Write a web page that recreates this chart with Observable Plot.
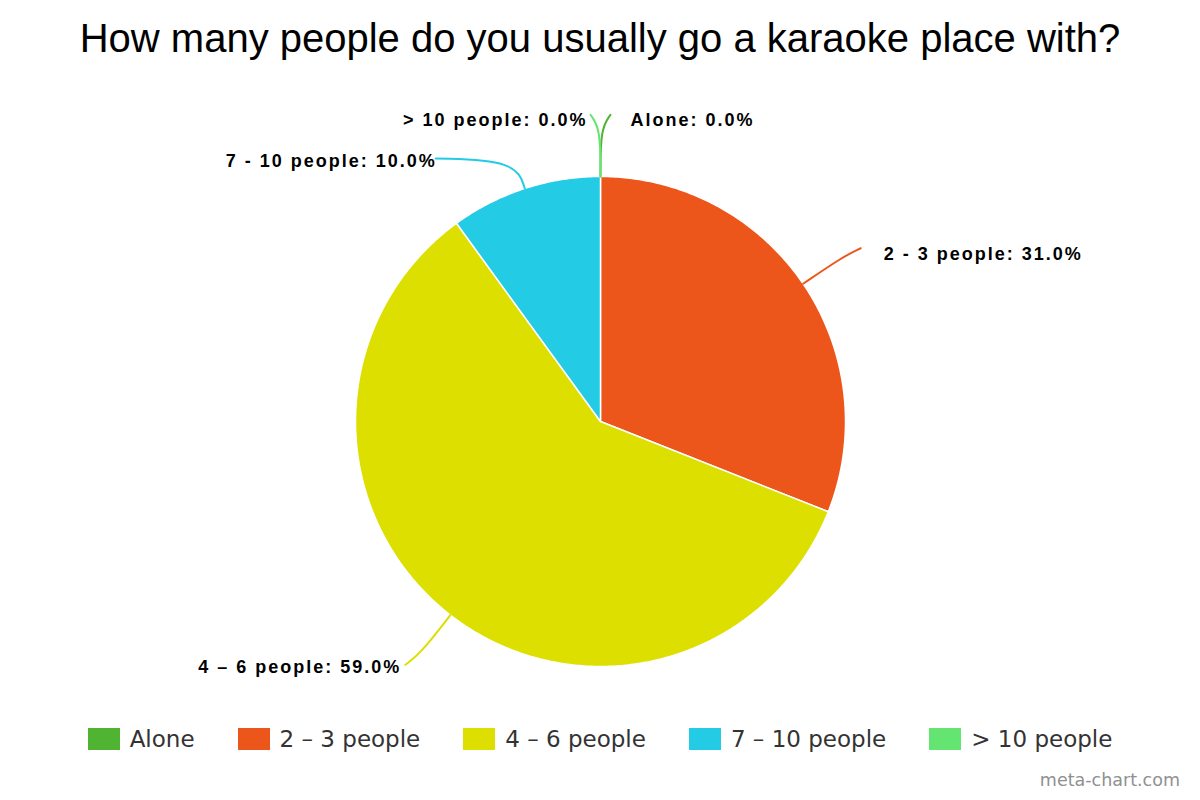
<!DOCTYPE html>
<html>
<head>
<meta charset="utf-8">
<script src="https://cdn.jsdelivr.net/npm/d3@7"></script>
<script src="https://cdn.jsdelivr.net/npm/@observablehq/plot@0.6"></script>
<style>
  html, body { margin: 0; padding: 0; background: #fff; }
  #page { position: relative; width: 1200px; height: 800px; overflow: hidden; }
  #title { position: absolute; left: 0; top: 14px; width: 1200px; text-align: center;
           font-family: "Liberation Sans", Arial, sans-serif; font-size: 40px; color: #000; line-height: 48px; }
  #chart { position: absolute; left: 0; top: 80px; }
  #legend { position: absolute; left: 0; top: 722px; width: 1200px; display: flex; justify-content: center;
            gap: 43px; font-family: "DejaVu Sans", sans-serif; font-size: 23px; color: #333; }
  #legend .item { display: flex; align-items: center; gap: 10px; line-height: 34px; }
  #legend .sw { width: 32px; height: 22px; display: inline-block; }
  #credit { position: absolute; right: 20px; top: 770px; font-family: "DejaVu Sans", sans-serif;
            font-size: 17.5px; color: #909090; }
</style>
</head>
<body>
<div id="page">
  <div id="title">How many people do you usually go a karaoke place with?</div>
  <div id="chart"></div>
  <div id="legend"></div>
  <div id="credit">meta-chart.com</div>
</div>
<script>
// ---- data ----
const categories = ["Alone", "2 - 3 people", "4 – 6 people", "7 - 10 people", "> 10 people"];
const legendLabels = ["Alone", "2 – 3 people", "4 – 6 people", "7 – 10 people", "> 10 people"];
const percents = [0.0, 31.0, 59.0, 10.0, 0.0];
const colors = ["#50b432", "#ed561b", "#dddf00", "#24cbe5", "#64e572"];

// ---- layout (pixels) ----
const W = 1200, H = 620, R = 245, CX = 600, CY = 341;
// connector layout per category: elbow radius factor, end offset (px), text offset (px), anchor
const labelLayout = {
  "Alone":         {elbow: 1.195, dx: 10,  dy: -14, tx: 20, ty: 6, anchor: "start"},
  "2 - 3 people":  {elbow: 1.2,   dx: 17,  dy: -8,  tx: 23, ty: 6, anchor: "start"},
  "4 – 6 people":  {elbow: 1.2,   dx: -15, dy: 11,  tx: -4, ty: 2, anchor: "end"},
  "7 - 10 people": {elbow: 1.12,  dx: -80, dy: -2,  tx: 1,  ty: 3, anchor: "end"},
  "> 10 people":   {elbow: 1.195, dx: -10, dy: -14, tx: -3, ty: 6, anchor: "end"}
};

const data = categories.map((c, i) => ({label: c, value: percents[i], color: colors[i]}));
const arcs = d3.pie().value(d => d.value).sort(null)(data);

// slice polygons in unit-radius coordinates (y up), angle measured clockwise from 12 o'clock
const slicePts = [];
for (const a of arcs) {
  if (a.endAngle - a.startAngle <= 0) continue;
  slicePts.push({label: a.data.label, x: 0, y: 0});
  const n = Math.max(2, Math.ceil((a.endAngle - a.startAngle) / 0.01));
  for (let k = 0; k <= n; k++) {
    const t = a.startAngle + (a.endAngle - a.startAngle) * k / n;
    slicePts.push({label: a.data.label, x: Math.sin(t), y: Math.cos(t)});
  }
  slicePts.push({label: a.data.label, x: 0, y: 0});
}

// connectors and labels
const connPts = [];
const labels = [];
for (const a of arcs) {
  const L = labelLayout[a.data.label];
  const m = (a.startAngle + a.endAngle) / 2;
  const ux = Math.sin(m), uy = Math.cos(m);
  const ex = ux * L.elbow, ey = uy * L.elbow;
  const px = ex + L.dx / R, py = ey - L.dy / R;
  connPts.push({label: a.data.label, x: ux, y: uy});
  connPts.push({label: a.data.label, x: ex, y: ey});
  connPts.push({label: a.data.label, x: px, y: py});
  labels.push({label: a.data.label, text: `${a.data.label}: ${a.data.value.toFixed(1)}%`,
               x: px + L.tx / R, y: py - L.ty / R, anchor: L.anchor});
}

const labelFont = {fontFamily: "'Liberation Sans', Arial, sans-serif", fontWeight: "bold", fontSize: 18, fill: "#000"};

const chart = Plot.plot({
  width: W, height: H,
  margin: 0,
  x: {domain: [-CX / R, (W - CX) / R], range: [0, W], axis: null},
  y: {domain: [-(H - CY) / R, CY / R], range: [H, 0], axis: null},
  color: {domain: categories, range: colors},
  style: {background: "white", overflow: "visible"},
  marks: [
    Plot.line(slicePts, {x: "x", y: "y", z: "label", fill: "label", stroke: "white", strokeWidth: 1.5, strokeLinejoin: "round"}),
    Plot.line(connPts, {x: "x", y: "y", z: "label", stroke: "label", strokeWidth: 2, curve: "basis"}),
    Plot.text(labels.filter(d => d.anchor === "start"), {x: "x", y: "y", text: "text", textAnchor: "start", ...labelFont}),
    Plot.text(labels.filter(d => d.anchor === "end"), {x: "x", y: "y", text: "text", textAnchor: "end", ...labelFont})
  ]
});
chart.querySelectorAll("text").forEach(t => t.style.letterSpacing = "2px");
document.getElementById("chart").appendChild(chart);

const legend = document.getElementById("legend");
legendLabels.forEach((l, i) => {
  const it = document.createElement("div");
  it.className = "item";
  it.innerHTML = `<span class="sw" style="background:${colors[i]}"></span><span>${l}</span>`;
  legend.appendChild(it);
});
</script>
</body>
</html>
